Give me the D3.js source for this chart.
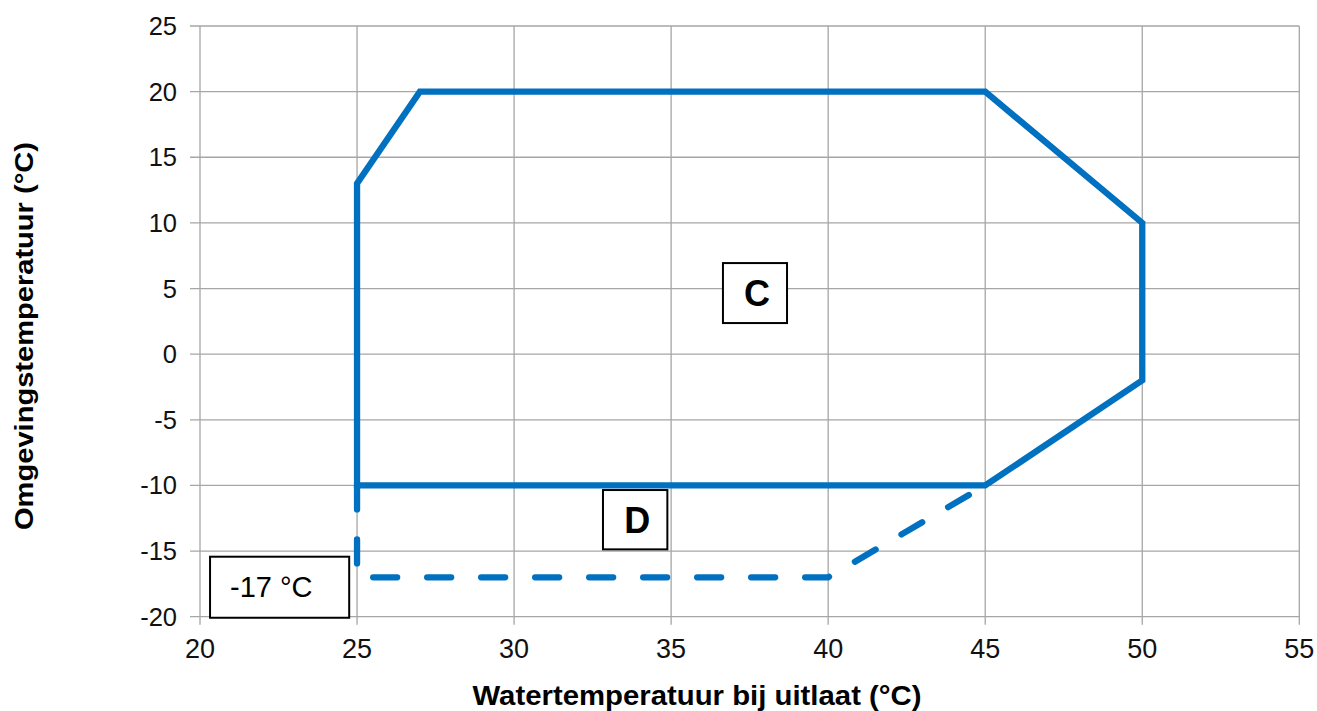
<!DOCTYPE html>
<html>
<head>
<meta charset="utf-8">
<script src="https://cdn.jsdelivr.net/npm/d3@7/dist/d3.min.js"></script>
<style>
  html, body { margin: 0; padding: 0; background: #fff; }
  svg { display: block; font-family: "Liberation Sans", Arial, sans-serif; }
</style>
</head>
<body>
<svg id="chart" width="1317" height="711"></svg>
<script>
// ---- Data ----
const xTicks = [20, 25, 30, 35, 40, 45, 50, 55];
const yTicks = [-20, -15, -10, -5, 0, 5, 10, 15, 20, 25];
const xLabel = "Watertemperatuur bij uitlaat (°C)";
const yLabel = "Omgevingstemperatuur (°C)";

// Operating envelope C (solid)
const envelopeX = [25, 25, 27, 45, 50, 50, 45, 25];
const envelopeY = [-10, 13, 20, 20, 10, -2, -10, -10];

// Extension D (dashed)
const extensionX = [25, 25, 40, 45];
const extensionY = [-10, -17, -17, -10];

// Annotation labels
const annoText = ["C", "D", "-17 °C"];
const annoX0 = [36.65, 32.83, 20.32];
const annoX1 = [38.69, 34.88, 24.75];
const annoY0 = [6.94, -10.35, -15.43];
const annoY1 = [2.37, -14.87, -20.08];

// ---- Layout ----
const svg = d3.select("#chart");
const x = d3.scaleLinear().domain([20, 55]).range([200, 1299.3]);
const y = d3.scaleLinear().domain([-20, 25]).range([616.7, 26]);
const grid = "#a6a6a6";
const blue = "#0070c0";

// gridlines
svg.append("g").selectAll("line.v").data(xTicks).join("line")
  .attr("x1", d => x(d)).attr("x2", d => x(d))
  .attr("y1", y(25)).attr("y2", y(-20) + 8)
  .attr("stroke", grid).attr("stroke-width", 1.3);
svg.append("g").selectAll("line.h").data(yTicks).join("line")
  .attr("x1", x(20) - 10).attr("x2", x(55))
  .attr("y1", d => y(d)).attr("y2", d => y(d))
  .attr("stroke", grid).attr("stroke-width", 1.3);

// tick labels
svg.append("g").selectAll("text").data(yTicks).join("text")
  .attr("x", 177).attr("y", d => y(d) + 9)
  .attr("text-anchor", "end").attr("font-size", 25.5).attr("fill", "#111")
  .text(d => d);
svg.append("g").selectAll("text").data(xTicks).join("text")
  .attr("x", d => x(d)).attr("y", 658)
  .attr("text-anchor", "middle").attr("font-size", 27).attr("fill", "#111")
  .text(d => d);

// axis titles
svg.append("text")
  .attr("x", 697).attr("y", 705)
  .attr("text-anchor", "middle").attr("font-size", 27).attr("font-weight", "bold")
  .attr("textLength", 449).attr("lengthAdjust", "spacingAndGlyphs")
  .text(xLabel);
svg.append("text")
  .attr("transform", "translate(33,336) rotate(-90)")
  .attr("text-anchor", "middle").attr("font-size", 26).attr("font-weight", "bold")
  .attr("textLength", 388).attr("lengthAdjust", "spacingAndGlyphs")
  .text(yLabel);

// lines
const line = d3.line().x(d => x(d[0])).y(d => y(d[1]));
const ext = extensionX.map((v, i) => [v, extensionY[i]]);
svg.append("path").attr("d", line(ext))
  .attr("fill", "none").attr("stroke", blue).attr("stroke-width", 6.3)
  .attr("stroke-dasharray", "24 30").attr("stroke-linecap", "round");

const env = envelopeX.map((v, i) => [v, envelopeY[i]]);
svg.append("path").attr("d", line(env) + "Z")
  .attr("fill", "none").attr("stroke", blue).attr("stroke-width", 6.3)
  .attr("stroke-linejoin", "miter");

// annotation boxes
const annoSize = [36, 36, 29];
const annoWeight = ["bold", "bold", "normal"];
const annoAnchor = ["middle", "middle", "start"];
annoText.forEach((t, i) => {
  const bx0 = x(annoX0[i]), bx1 = x(annoX1[i]);
  const by0 = y(annoY0[i]), by1 = y(annoY1[i]);
  svg.append("rect")
    .attr("x", bx0).attr("y", by0).attr("width", bx1 - bx0).attr("height", by1 - by0)
    .attr("fill", "#fff").attr("stroke", "#000").attr("stroke-width", 2);
  const tx = annoAnchor[i] === "middle" ? (bx0 + bx1) / 2 + 2 : bx0 + 20;
  svg.append("text")
    .attr("x", tx).attr("y", (by0 + by1) / 2 + (i === 2 ? 10 : 13))
    .attr("text-anchor", annoAnchor[i])
    .attr("font-size", annoSize[i]).attr("font-weight", annoWeight[i])
    .attr("fill", "#000")
    .text(t);
});
</script>
</body>
</html>
